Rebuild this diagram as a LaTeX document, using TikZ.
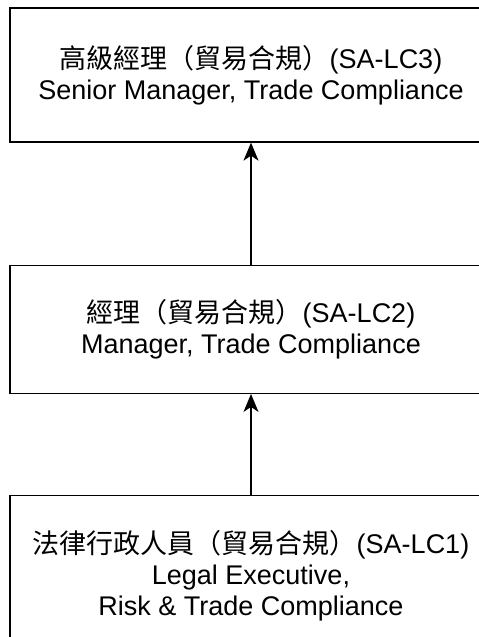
\documentclass[tikz,border=0pt]{standalone}
\usepackage{fontspec}
\setmainfont{Liberation Sans}
\newfontfamily\cjk{Noto Sans CJK TC}
\usepackage{tikz}
\usetikzlibrary{positioning,arrows.meta}

\begin{document}
\begin{tikzpicture}[x=1pt, y=1pt, thick,
    role/.style={draw, line width=1.3pt, minimum width=482pt, align=center,
      font=\fontsize{27}{31}\selectfont, inner sep=0pt},
    up/.style={line width=1.3pt, -{Stealth[length=18pt, width=15pt, inset=5pt]}}]

          \useasboundingbox (0,0) rectangle (479,-637);
          \clip (0,0) rectangle (479,-637);

          % Define nodes
          \node[role, minimum height=134pt] (LCthree) at (251,-75)
            {{\cjk 高級經理（貿易合規）}(SA-LC3)\\Senior Manager, Trade Compliance};
          \node[role, minimum height=128pt, below=122pt of LCthree] (LCtwo)
            {{\cjk 經理（貿易合規）}(SA-LC2)\\Manager, Trade Compliance};
          \node[role, minimum height=160pt, below=101pt of LCtwo] (LCone)
            {{\cjk 法律行政人員（貿易合規）}(SA-LC1)\\Legal Executive,\\Risk \& Trade Compliance};

          % Connect the nodes
          \draw[up] (LCtwo) -- (LCthree);
          \draw[up] (LCone) -- (LCtwo);

\end{tikzpicture}
\end{document}
